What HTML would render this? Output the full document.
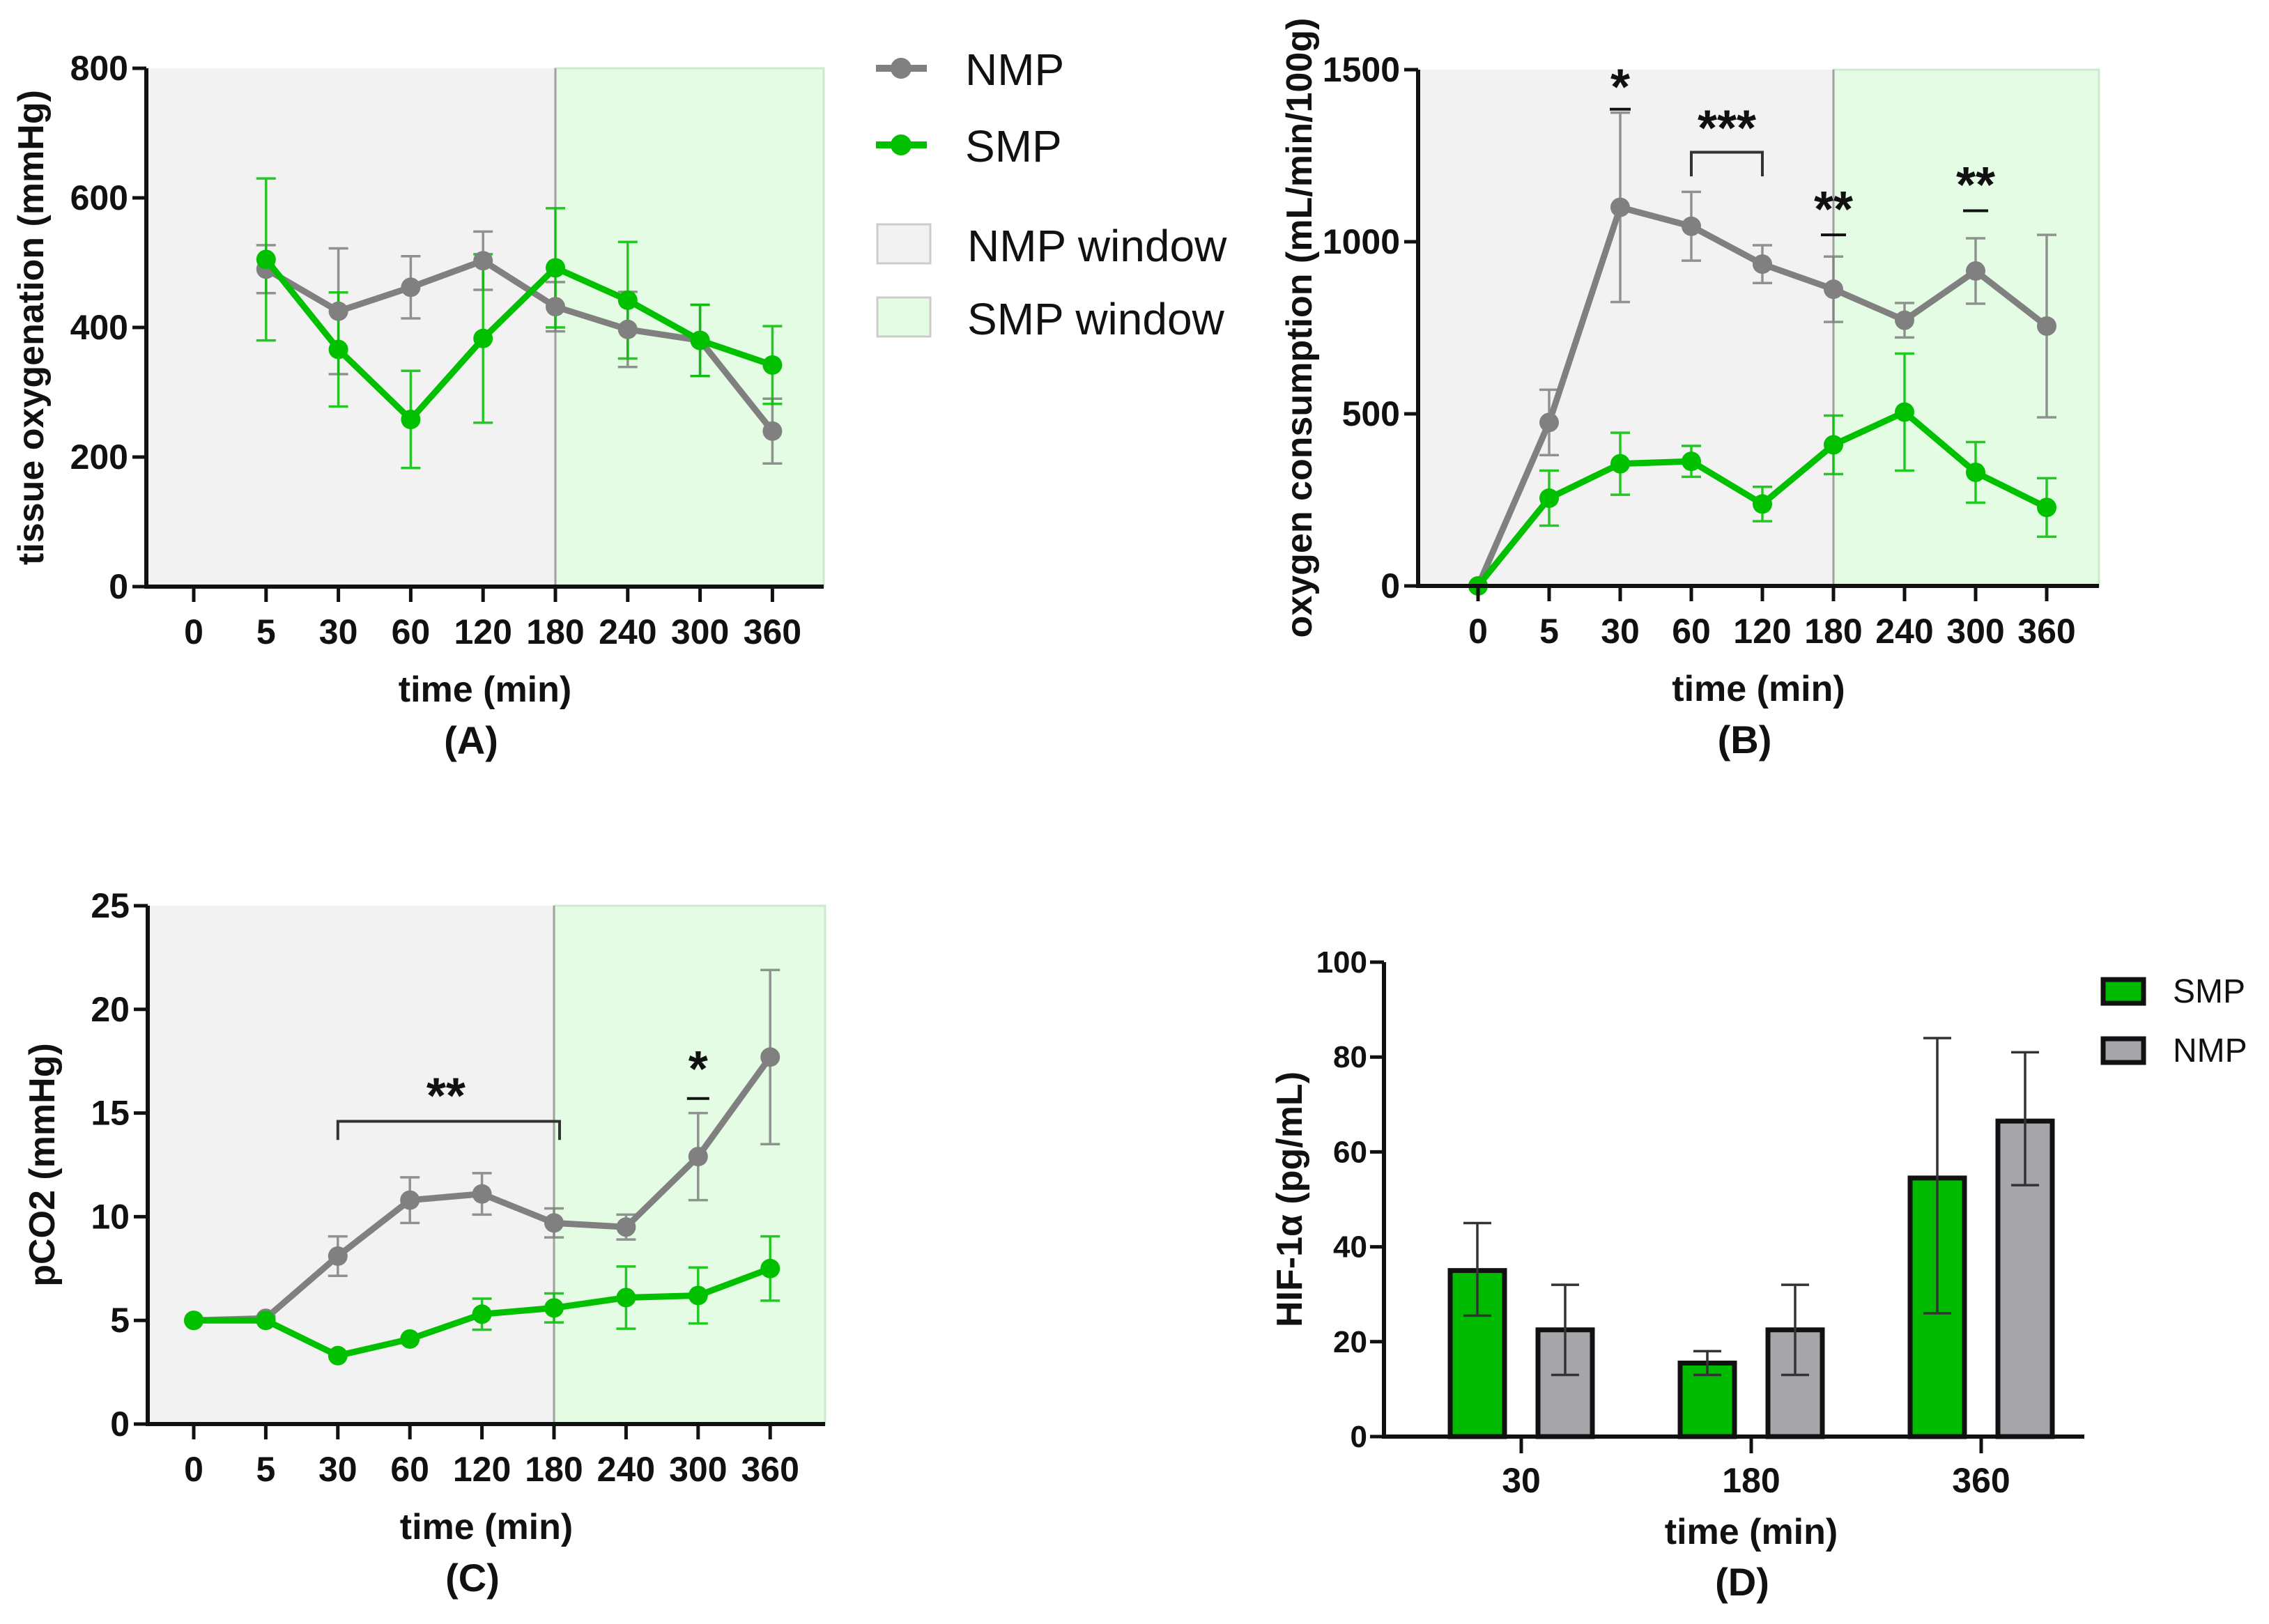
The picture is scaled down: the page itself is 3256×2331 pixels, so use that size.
<!DOCTYPE html>
<html><head><meta charset="utf-8"><style>
html,body{margin:0;padding:0;background:#fff;}
svg{display:block;font-family:"Liberation Sans",Arial,sans-serif;}
</style></head><body>
<svg id="fig" width="3256" height="2331" viewBox="0 0 3256 2331" xmlns="http://www.w3.org/2000/svg">
<g id="legend-top">
  <g>
    <line x1="1257" y1="98" x2="1330" y2="98" stroke="#808080" stroke-width="10"/>
    <circle cx="1293" cy="98" r="15" fill="#808080"/>
    <text x="1385" y="122" font-size="64" fill="#111">NMP</text>
  </g>
  <g>
    <line x1="1257" y1="208" x2="1330" y2="208" stroke="#00c000" stroke-width="10"/>
    <circle cx="1293" cy="208" r="15" fill="#00c000"/>
    <text x="1385" y="232" font-size="64" fill="#111">SMP</text>
  </g>
  <g>
    <rect x="1259" y="322" width="76" height="56" fill="#f2f2f2" stroke="#ccc" stroke-width="3"/>
    <text x="1388" y="375" font-size="64" fill="#111">NMP window</text>
  </g>
  <g>
    <rect x="1259" y="427" width="76" height="56" fill="#e3fce3" stroke="#ccc" stroke-width="3"/>
    <text x="1388" y="480" font-size="64" fill="#111">SMP window</text>
  </g>
</g>
<g id="pA"></g>
<g id="pB"></g>
<g id="pC"></g>
<g id="pD"></g>
</svg>
<script>
const timeLabels = ["0","5","30","60","120","180","240","300","360"];
// Panel A
const aNmp = [null,490,425,462,503,432,397,380,240];
const aNmpErr = [0,37,97,48,45,38,58,55,50];
const aSmp = [null,505,366,258,383,492,442,380,342];
const aSmpErr = [0,125,88,75,130,92,90,55,60];
const aTicks = [0,200,400,600,800];
// Panel B
const bNmp = [0,475,1100,1045,935,862,772,915,755];
const bNmpErr = [0,95,275,100,55,95,50,95,265];
const bSmp = [0,255,355,362,238,410,505,330,228];
const bSmpErr = [0,80,90,45,50,85,170,88,85];
const bTicks = [0,500,1000,1500];
// Panel C
const cNmp = [5,5.1,8.1,10.8,11.1,9.7,9.5,12.9,17.7];
const cNmpErr = [0,0.1,0.95,1.1,1.0,0.7,0.6,2.1,4.2];
const cSmp = [5,5,3.3,4.1,5.3,5.6,6.1,6.2,7.5];
const cSmpErr = [0,0.1,0,0,0.75,0.7,1.5,1.35,1.55];
const cTicks = [0,5,10,15,20,25];
// Panel D
const dCats = ["30","180","360"];
const dSmp = [35,15.5,54.5];
const dSmpHi = [45,18,84];
const dSmpLo = [25.5,13,26];
const dNmp = [22.5,22.5,66.5];
const dNmpHi = [32,32,81];
const dNmpLo = [13,13,53];
const dTicks = [0,20,40,60,80,100];

const NS="http://www.w3.org/2000/svg";
function mk(parent,tag,attrs,txt){const e=document.createElementNS(NS,tag);for(const k in attrs)e.setAttribute(k,attrs[k]);if(txt!==undefined)e.textContent=txt;parent.appendChild(e);return e;}
const GRAY="#808080", GREEN="#00c000";
const TICKF=50, TITLEF=52;

function lineChart(g,cfg){
  const ys=v=>cfg.y0-(v-cfg.min)/(cfg.max-cfg.min)*(cfg.y0-cfg.y1);
  const xs=i=>cfg.xStart+cfg.xStep*i;
  const bg1=mk(g,'rect',{x:cfg.ax,y:cfg.y1,width:xs(5)-cfg.ax,height:cfg.y0-cfg.y1,fill:'#f2f2f2'});
  
  
  const bg2=mk(g,'rect',{x:xs(5),y:cfg.y1,width:cfg.right-xs(5),height:cfg.y0-cfg.y1,fill:'#e3fce3',stroke:'#cfe8cf','stroke-width':3});
  
  
  mk(g,'line',{x1:xs(5),y1:cfg.y1,x2:xs(5),y2:cfg.y0,stroke:'#a0a0a0','stroke-width':3});
  const series=[[cfg.nmp,cfg.nmpErr,GRAY,'nmp'],[cfg.smp,cfg.smpErr,GREEN,'smp']];
  series.forEach(([vals,err,col,nm])=>{
    vals.forEach((v,i)=>{ if(v===null||!err[i])return;
      const eb=mk(g,'path',{d:`M${xs(i)},${ys(v-err[i])}V${ys(v+err[i])}M${xs(i)-14},${ys(v-err[i])}h28M${xs(i)-14},${ys(v+err[i])}h28`,stroke:col,'stroke-width':3.5,fill:'none',opacity:0.85});
      
      
    });
  });
  series.forEach(([vals,err,col,nm])=>{
    let d='';vals.forEach((v,i)=>{if(v===null)return;d+=(d?'L':'M')+xs(i)+','+ys(v);});
    const ln=mk(g,'path',{d,stroke:col,'stroke-width':9,fill:'none','stroke-linejoin':'round'});
    
    
    vals.forEach((v,i)=>{if(v===null)return;
      const c=mk(g,'circle',{cx:xs(i),cy:ys(v),r:14,fill:col});
      
      
    });
  });
  mk(g,'path',{d:`M${cfg.ax},${cfg.y1}V${cfg.y0}H${cfg.right}`,stroke:'#111','stroke-width':6,fill:'none'});
  cfg.ticks.forEach(t=>{
    mk(g,'line',{x1:cfg.ax-20,y1:ys(t),x2:cfg.ax,y2:ys(t),stroke:'#111','stroke-width':5});
    const tl=mk(g,'text',{x:cfg.ax-26,y:ys(t)+17,'text-anchor':'end','font-size':TICKF,'font-weight':'bold',fill:'#111'},String(t));
    
    
  });
  timeLabels.forEach((t,i)=>{
    mk(g,'line',{x1:xs(i),y1:cfg.y0,x2:xs(i),y2:cfg.y0+22,stroke:'#111','stroke-width':5});
    const tl=mk(g,'text',{x:xs(i),y:cfg.y0+82,'text-anchor':'middle','font-size':TICKF,'font-weight':'bold',fill:'#111'},t);
    
    
  });
  const xt=mk(g,'text',{x:(cfg.ax+cfg.right)/2,y:cfg.y0+165,'text-anchor':'middle','font-size':TITLEF,'font-weight':'bold',fill:'#111'},'time (min)');
  
  
  const pl=mk(g,'text',{x:(cfg.ax+cfg.right)/2-20,y:cfg.y0+240,'text-anchor':'middle','font-size':56,'font-weight':'bold',fill:'#111'},cfg.letter);
  
  
  const yc=(cfg.y0+cfg.y1)/2;
  const yt=mk(g,'text',{x:cfg.ytx,y:yc,'text-anchor':'middle','font-size':TITLEF,'font-weight':'bold',fill:'#111',transform:`rotate(-90 ${cfg.ytx} ${yc})`},cfg.ytitle);
  
  
  return {xs,ys};
}
function star(g,x,y,s){const t=mk(g,'text',{x,y,'text-anchor':'middle','font-size':72,'font-weight':'bold',fill:'#111'},s);
  
  }

lineChart(document.getElementById('pA'),{ax:210,right:1182,y0:842,y1:98,min:0,max:800,xStart:278,xStep:103.8,
  nmp:aNmp,nmpErr:aNmpErr,smp:aSmp,smpErr:aSmpErr,ticks:aTicks,letter:'(A)',ytitle:'tissue oxygenation (mmHg)',ytx:62});

const gB=document.getElementById('pB');
const B=lineChart(gB,{ax:2035,right:3012,y0:841,y1:100,min:0,max:1500,xStart:2121,xStep:102,
  nmp:bNmp,nmpErr:bNmpErr,smp:bSmp,smpErr:bSmpErr,ticks:bTicks,letter:'(B)',ytitle:'oxygen consumption (mL/min/100g)',ytx:1882});
mk(gB,'line',{x1:B.xs(2)-15,y1:B.ys(1385),x2:B.xs(2)+15,y2:B.ys(1385),stroke:'#111','stroke-width':4});
star(gB,B.xs(2),B.ys(1400),'*');
mk(gB,'path',{d:`M${B.xs(3)},${B.ys(1190)}V${B.ys(1260)}H${B.xs(4)}V${B.ys(1190)}`,stroke:'#333','stroke-width':4,fill:'none'});
star(gB,(B.xs(3)+B.xs(4))/2,B.ys(1280),'***');
mk(gB,'line',{x1:B.xs(5)-18,y1:B.ys(1020),x2:B.xs(5)+18,y2:B.ys(1020),stroke:'#111','stroke-width':4});
star(gB,B.xs(5),B.ys(1045),'**');
mk(gB,'line',{x1:B.xs(7)-18,y1:B.ys(1090),x2:B.xs(7)+18,y2:B.ys(1090),stroke:'#111','stroke-width':4});
star(gB,B.xs(7),B.ys(1115),'**');

const gC=document.getElementById('pC');
const C=lineChart(gC,{ax:212,right:1184,y0:2044,y1:1300,min:0,max:25,xStart:278,xStep:103.4,
  nmp:cNmp,nmpErr:cNmpErr,smp:cSmp,smpErr:cSmpErr,ticks:cTicks,letter:'(C)',ytitle:'pCO2 (mmHg)',ytx:78});
mk(gC,'path',{d:`M${C.xs(2)},${C.ys(13.7)}V${C.ys(14.6)}H${C.xs(5)+8}V${C.ys(13.7)}`,stroke:'#333','stroke-width':4,fill:'none'});
star(gC,(C.xs(2)+C.xs(5))/2,C.ys(15.0),'**');
mk(gC,'line',{x1:C.xs(7)-16,y1:C.ys(15.7),x2:C.xs(7)+16,y2:C.ys(15.7),stroke:'#111','stroke-width':4});
star(gC,C.xs(7),C.ys(16.3),'*');

(function(){
  const g=document.getElementById('pD');
  const ax=1986,right=2991,y0=2062,y1=1381;
  const ys=v=>y0-v/100*(y0-y1);
  const gx=[2183,2513,2843];
  const bw=78;
  const sets=[[dSmp,dSmpHi,dSmpLo,'#00bb00',-63,'smp'],[dNmp,dNmpHi,dNmpLo,'#a6a6aa',63,'nmp']];
  sets.forEach(([vals,hi,lo,col,off,nm])=>{
    vals.forEach((v,i)=>{
      const cx=gx[i]+off;
      const r=mk(g,'rect',{x:cx-bw/2,y:ys(v),width:bw,height:y0-ys(v),fill:col,stroke:'#111','stroke-width':7});
      
      
      const e=mk(g,'path',{d:`M${cx},${ys(lo[i])}V${ys(hi[i])}M${cx-20},${ys(lo[i])}h40M${cx-20},${ys(hi[i])}h40`,stroke:'#333','stroke-width':3.5,fill:'none'});
      
      
    });
  });
  mk(g,'path',{d:`M${ax},${y1}V${y0}H${right}`,stroke:'#111','stroke-width':6,fill:'none'});
  dTicks.forEach(t=>{
    mk(g,'line',{x1:ax-20,y1:ys(t),x2:ax,y2:ys(t),stroke:'#111','stroke-width':5});
    const tl=mk(g,'text',{x:ax-24,y:ys(t)+15,'text-anchor':'end','font-size':44,'font-weight':'bold',fill:'#111'},String(t));
    
    
  });
  dCats.forEach((c,i)=>{
    mk(g,'line',{x1:gx[i],y1:y0,x2:gx[i],y2:y0+24,stroke:'#111','stroke-width':5});
    const tl=mk(g,'text',{x:gx[i],y:y0+80,'text-anchor':'middle','font-size':TICKF,'font-weight':'bold',fill:'#111'},c);
    
    
  });
  const xt=mk(g,'text',{x:2513,y:2216,'text-anchor':'middle','font-size':TITLEF,'font-weight':'bold',fill:'#111'},'time (min)');
  
  
  const pl=mk(g,'text',{x:2500,y:2290,'text-anchor':'middle','font-size':56,'font-weight':'bold',fill:'#111'},'(D)');
  
  
  const yc=(y0+y1)/2;
  const yt=mk(g,'text',{x:1868,y:yc,'text-anchor':'middle','font-size':TITLEF,'font-weight':'bold',fill:'#111',transform:`rotate(-90 1868 ${yc})`},'HIF-1α (pg/mL)');
  
  
  const l1=mk(g,'rect',{x:3018,y:1406,width:58,height:34,fill:'#00bb00',stroke:'#111','stroke-width':7});
  
  
  const t1=mk(g,'text',{x:3118,y:1439,'font-size':48,fill:'#111'},'SMP');
  
  
  const l2=mk(g,'rect',{x:3018,y:1491,width:58,height:34,fill:'#a6a6aa',stroke:'#111','stroke-width':7});
  
  
  const t2=mk(g,'text',{x:3118,y:1524,'font-size':48,fill:'#111'},'NMP');
  
  
})();
</script>
</body></html>
